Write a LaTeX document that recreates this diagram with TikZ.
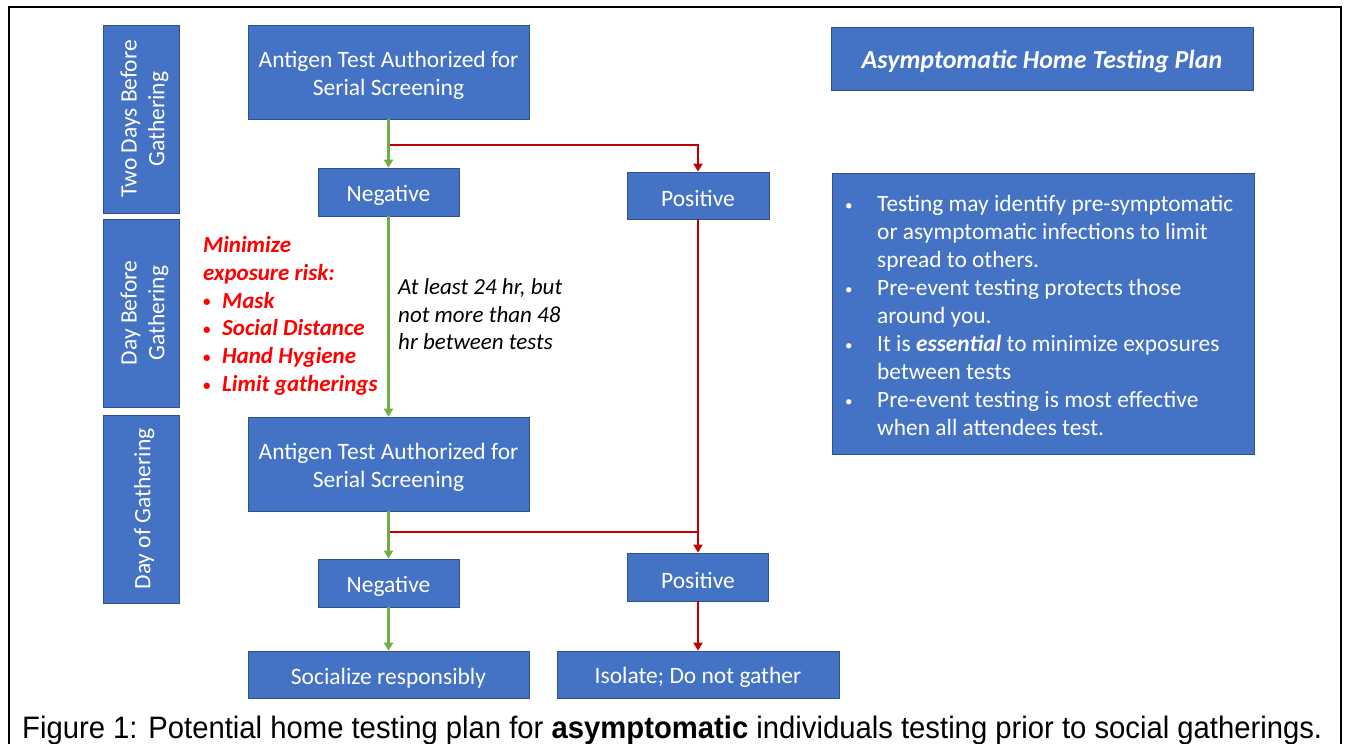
\documentclass[tikz,border=0pt]{standalone}
\usepackage{fontspec}
\usepackage{graphicx}
\setmainfont{Carlito}
\newfontfamily\capfont{Liberation Sans}
\usetikzlibrary{arrows.meta}
\definecolor{boxblue}{HTML}{4472C4}
\definecolor{boxedge}{HTML}{2F528F}
\definecolor{agreen}{HTML}{70AD47}
\definecolor{ared}{HTML}{C00000}
\definecolor{tred}{HTML}{FF0000}
\newcommand{\sbul}{\raisebox{1.5pt}{\fontsize{15}{15}\selectfont\upshape •}}
\newcommand{\dn}{\rule{0pt}{23pt}}
\begin{document}
\begin{tikzpicture}[x=1pt,y=-1pt,
  box/.style={draw=boxedge, fill=boxblue, line width=0.75pt, text=white, align=center, inner sep=0pt, font=\fontsize{23.5}{27.6}\selectfont},
  daybox/.style={box, rotate=90, minimum width=188pt, minimum height=76pt},
  gline/.style={draw=agreen, line width=2.6pt, -{Triangle[width=9pt,length=8pt]}},
  rline/.style={draw=ared, line width=2.8pt, -{Triangle[width=9pt,length=8pt]}},
  rseg/.style={draw=ared, line width=2.8pt},
  frameline/.style={draw=black, line width=2pt}]
\useasboundingbox (0,0) rectangle (1353,744);
\fill[white] (0,0) rectangle (1353,744);
\draw[frameline] (9,744) -- (9,7) -- (1341,7) -- (1341,744);

\node[daybox] (dtwo) at (141,119) {\dn Two Days Before\\Gathering};
\node[daybox] (done) at (141,313) {\dn Day Before\\Gathering};
\node[daybox] (dzero) at (141,509) {\dn Day of Gathering};

\node[box, minimum width=281pt, minimum height=94pt] (t1) at (388.5,72) {\dn Antigen Test Authorized for\\Serial Screening};
\node[box, minimum width=141pt, minimum height=48pt] (n1) at (388.5,192) {\dn Negative};
\node[box, minimum width=142pt, minimum height=47pt] (p1) at (698,195.5) {\dn Positive};
\node[box, minimum width=281pt, minimum height=94pt] (t2) at (388.5,464) {\dn Antigen Test Authorized for\\Serial Screening};
\node[box, minimum width=141pt, minimum height=48pt] (n2) at (388.5,583) {\dn Negative};
\node[box, minimum width=141pt, minimum height=48pt] (p2) at (698,577) {\dn Positive};
\node[box, minimum width=281pt, minimum height=47pt] (soc) at (388.5,674.5) {\dn Socialize responsibly};
\node[box, minimum width=282pt, minimum height=47pt] (iso) at (698,674.5) {\dn Isolate; Do not gather};

\node[box, minimum width=422pt, minimum height=63pt, font=\bfseries\itshape\fontsize{26}{30}\selectfont] (title) at (1042,59) {\rule{0pt}{24pt}Asymptomatic Home Testing Plan};
\node[box, minimum width=422pt, minimum height=281pt] (info) at (1043,313.5) {};
\node[text=white, anchor=west, inner sep=0pt, font=\fontsize{23.4}{28}\selectfont] (infotext) at (845,318) {\begin{tabular}{@{}p{32pt}@{}l@{}}
\sbul & Testing may identify pre-symptomatic\\
 & or asymptomatic infections to limit\\
 & spread to others.\\
\sbul & Pre-event testing protects those\\
 & around you.\\
\sbul & It is \textbf{\textit{essential}} to minimize exposures\\
 & between tests\\
\sbul & Pre-event testing is most effective\\
 & when all attendees test.
\end{tabular}};

\node[text=tred, anchor=west, inner sep=0pt, font=\bfseries\itshape\fontsize{23}{27.8}\selectfont] (risk) at (203,316.5) {\begin{tabular}{@{}p{19pt}@{}l@{}}
\multicolumn{2}{@{}l@{}}{Minimize}\\
\multicolumn{2}{@{}l@{}}{exposure risk:}\\
\sbul & Mask\\
\sbul & Social Distance\\
\sbul & Hand Hygiene\\
\sbul & Limit gatherings
\end{tabular}};

\node[anchor=west, inner sep=0pt, align=left, font=\itshape\fontsize{23}{27.5}\selectfont] (gap) at (398,314.5) {At least 24 hr, but\\not more than 48\\hr between tests};

\node[anchor=base west, inner sep=0pt, font=\capfont\fontsize{31}{36}\selectfont] (cap) at (22,738) {\resizebox{1300pt}{\height}{Figure 1: Potential home testing plan for \textbf{asymptomatic} individuals testing prior to social gatherings.}};

\coordinate (j1) at (388.5,145);
\coordinate (j2) at (388.5,532);
\draw[rline] (j1) -| (p1.north);
\draw[gline] (t1.south) -- (n1.north);
\draw[gline] (n1.south) -- (t2.north);
\draw[rline] (p1.south) -- (p2.north);
\draw[rseg] (j2) -- (j2 -| p2.north);
\draw[gline] (t2.south) -- (n2.north);
\draw[gline] (n2.south) -- (soc.north);
\draw[rline] (p2.south) -- (iso.north);
\end{tikzpicture}
\end{document}
